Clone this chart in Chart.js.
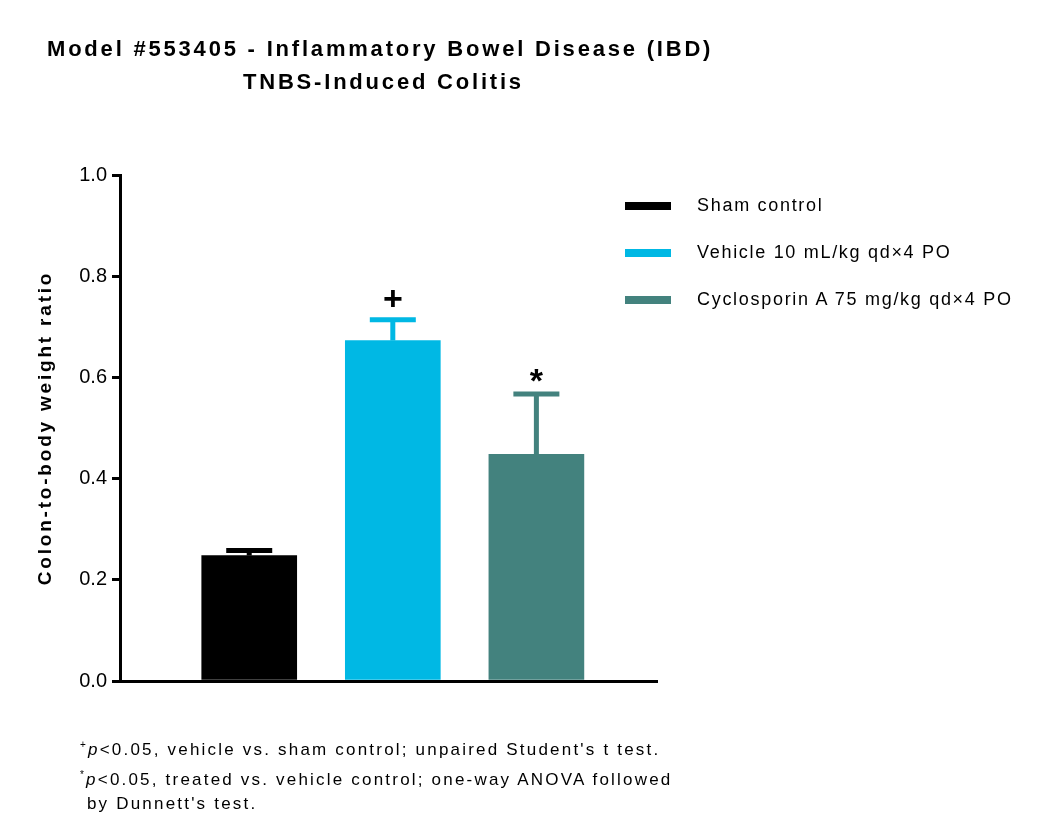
<!DOCTYPE html>
<html><head><meta charset="utf-8">
<script src="https://cdn.jsdelivr.net/npm/chart.js@4"></script>
<style>
body{margin:0;background:#fff;font-family:"Liberation Sans",Arial,sans-serif;}
#wrap{position:relative;width:1050px;height:840px;}
canvas{position:absolute;left:0;top:0;}
.title{position:absolute;font-weight:bold;font-size:22px;color:#000;letter-spacing:2.8px;}
.leg{position:absolute;left:625px;font-size:18px;letter-spacing:1.7px;}
.leg span{display:inline-block;width:46px;height:8px;vertical-align:middle;margin-right:26px;}
.note{position:absolute;left:80px;font-size:17px;line-height:25px;top:732px;letter-spacing:2.2px;}
</style></head>
<body>
<div id="wrap">
<canvas id="c" width="1050" height="840"></canvas>
<div class="title" style="left:47px;top:36px;">Model #553405 - Inflammatory Bowel Disease (IBD)</div>
<div class="title" style="left:243px;top:69px;">TNBS-Induced Colitis</div>
<div id="legend"></div>
<div class="note"><sup style="font-size:10px">+</sup><i>p</i>&lt;0.05, vehicle vs. sham control; unpaired Student's t test.<br><sup style="font-size:10px">*</sup><i>p</i>&lt;0.05, treated vs. vehicle control; one-way ANOVA followed<br>&nbsp;by Dunnett's test.</div>
</div>
<script>
var groups = ["Sham control", "Vehicle 10 mL/kg qd\u00d74 PO", "Cyclosporin A 75 mg/kg qd\u00d74 PO"];
var means = [0.248, 0.673, 0.448];
var errors = [0.010, 0.041, 0.119];
var marks = ["", "+", "*"];
var colors = ["#000000", "#00b8e4", "#43827e"];
var positions = [0.9, 1.9, 2.9];
var yTicks = [0.0, 0.2, 0.4, 0.6, 0.8, 1.0];

var legendHtml = "";
for (var i = 0; i < groups.length; i++){
    legendHtml += '<div class="leg" style="top:' + (195 + i*47) + 'px"><span style="background:' + colors[i] + '"></span>' + groups[i] + '</div>';
}
document.getElementById("legend").innerHTML = legendHtml;

var errorBars = {
    id: 'errorBars',
    afterDatasetsDraw: function(chart){
        var ctx = chart.ctx, x = chart.scales.x, y = chart.scales.y;
        for (var i = 0; i < means.length; i++){
            var cx = x.getPixelForValue(positions[i]);
            var top = y.getPixelForValue(means[i] + errors[i]);
            var base = y.getPixelForValue(means[i]);
            ctx.save();
            ctx.strokeStyle = colors[i];
            ctx.lineWidth = 5;
            ctx.beginPath();
            ctx.moveTo(cx, base); ctx.lineTo(cx, top);
            ctx.moveTo(cx - 23, top); ctx.lineTo(cx + 23, top);
            ctx.stroke();
            if (marks[i]){
                ctx.fillStyle = "#000";
                ctx.font = "bold 34px 'Liberation Sans', Arial";
                ctx.textAlign = "center";
                ctx.textBaseline = "bottom";
                ctx.fillText(marks[i], cx, top - (marks[i] == "*" ? -6 : 2));
            }
            ctx.restore();
        }
        // y axis title
        ctx.save();
        ctx.translate(46, (y.top + y.bottom) / 2);
        ctx.rotate(-Math.PI / 2);
        ctx.letterSpacing = "2.8px";
        ctx.font = "bold 19px 'Liberation Sans', Arial";
        ctx.fillStyle = "#000";
        ctx.textAlign = "center";
        ctx.textBaseline = "middle";
        ctx.fillText("Colon-to-body weight ratio", 0, 0);
        ctx.restore();
    }
};

new Chart(document.getElementById('c'), {
    type: 'bar',
    data: {
        datasets: [{
            data: positions.map((p, i) => ({x: p, y: means[i]})),
            backgroundColor: colors,
            barThickness: 95
        }]
    },
    options: {
        responsive: false,
        animation: false,
        layout: {padding: {top: 175, right: 393, bottom: 159, left: 0}},
        plugins: {legend: {display: false}, tooltip: {enabled: false}},
        scales: {
            x: {
                type: 'linear', min: 0, max: 3.74, offset: false,
                ticks: {display: false},
                grid: {display: false, drawTicks: false, offset: false},
                border: {color: '#000', width: 3}
            },
            y: {
                min: 0, max: 1.0,
                afterBuildTicks: function(axis){ axis.ticks = yTicks.map(v => ({value: v})); },
                afterFit: function(axis){ axis.width = 120; },
                ticks: {color: '#000', font: {size: 20, family: "'Liberation Sans', Arial"}, padding: 5,
                    callback: v => v.toFixed(1)},
                grid: {drawOnChartArea: false, tickLength: 8, color: '#000', lineWidth: 3},
                border: {color: '#000', width: 3}
            }
        }
    },
    plugins: [errorBars]
});
</script>
</body></html>
